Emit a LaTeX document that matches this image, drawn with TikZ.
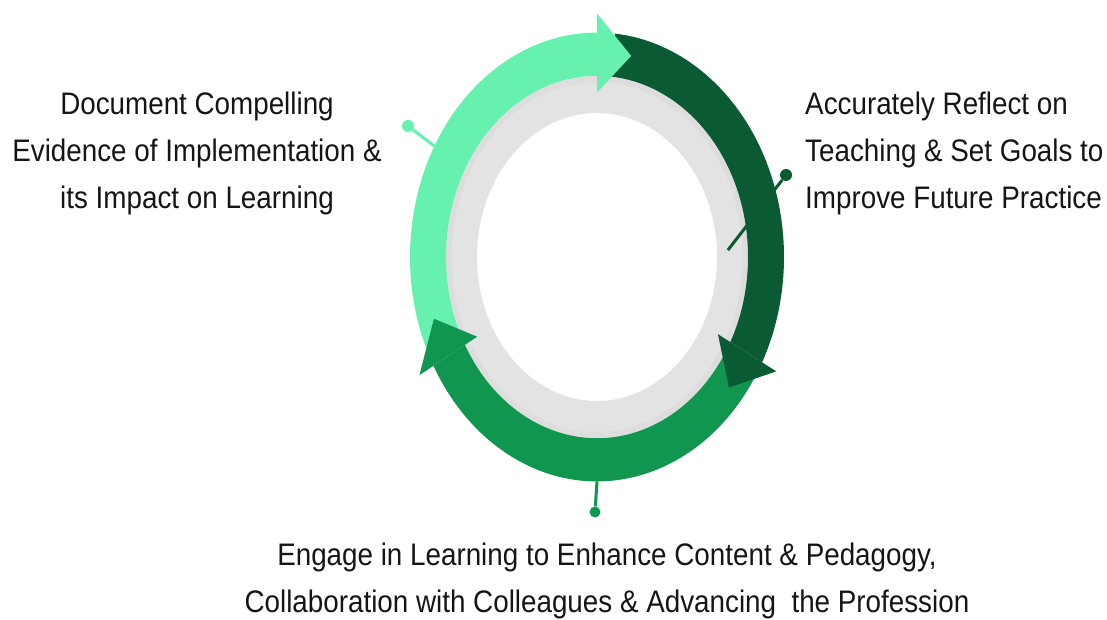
\documentclass[tikz,border=0pt]{standalone}
\usepackage{fontspec}
\setmainfont{Liberation Sans}
\usepackage{tikz}
\definecolor{lightgrn}{HTML}{66F2AE}
\definecolor{darkgrn}{HTML}{0A5A33}
\definecolor{midgrn}{HTML}{10964F}
\definecolor{ringgray}{HTML}{E3E3E3}
\definecolor{txt}{HTML}{151515}
\newcommand{\band}[3]{\fill[#1] (#2:187) arc[start angle=#2, end angle=#3, radius=187] -- (#3:151) arc[start angle=#3, end angle=#2, radius=151] -- cycle;}
\newcommand{\head}[2]{\fill[#1] (#2:137) -- ({#2-11.5}:171) -- (#2:203) -- cycle;}
\begin{document}
\begin{tikzpicture}[x=1pt, y=1pt,
        label/.style={text=txt, inner sep=0pt, yscale=1.12, font=\fontsize{27.8}{42}\selectfont},
        pin/.style={line width=3pt},
        dot/.style={circle, inner sep=0pt, minimum size=12pt}]
    \useasboundingbox (0,0) rectangle (1107,619);
    \begin{scope}[shift={(597,362)}, yscale=1.2]
        \fill[ringgray, even odd rule] (0,0) circle (152) (0,0) circle (120);
        \foreach \i in {1,...,5}
            \draw[black, opacity=0.025, line width=1pt] (0,0) circle ({151-\i});
        \band{midgrn}{-32}{-151}
        \band{lightgrn}{204}{90}
        \band{darkgrn}{84.5}{-28}
        \head{lightgrn}{90}
        \head{darkgrn}{-28}
        \head{midgrn}{209}
        \coordinate (ringL) at (150.4:187);
        \coordinate (ringR) at (2.5:131);
        \coordinate (ringB) at (270:187);
    \end{scope}
    \node[dot, fill=lightgrn] (dotL) at (408,493) {};
    \node[dot, fill=darkgrn] (dotR) at (786,444) {};
    \node[dot, fill=midgrn, minimum size=11pt] (dotB) at (595,107) {};
    \draw[pin, lightgrn] (dotL) -- (ringL);
    \draw[pin, darkgrn] (dotR) -- (ringR);
    \draw[pin, midgrn] (dotB) -- (ringB);
    \node[label, align=center] (evid) at (197,466) {Document Compelling\\Evidence of Implementation \&\\its Impact on Learning};
    \node[label, align=left, anchor=west] (refl) at (805,466) {Accurately Reflect on\\Teaching \& Set Goals to\\Improve Future Practice};
    \node[label, align=center] (engage) at (607,38) {Engage in Learning to Enhance Content \& Pedagogy,\\Collaboration with Colleagues \& Advancing~ the Profession};
\end{tikzpicture}
\end{document}
